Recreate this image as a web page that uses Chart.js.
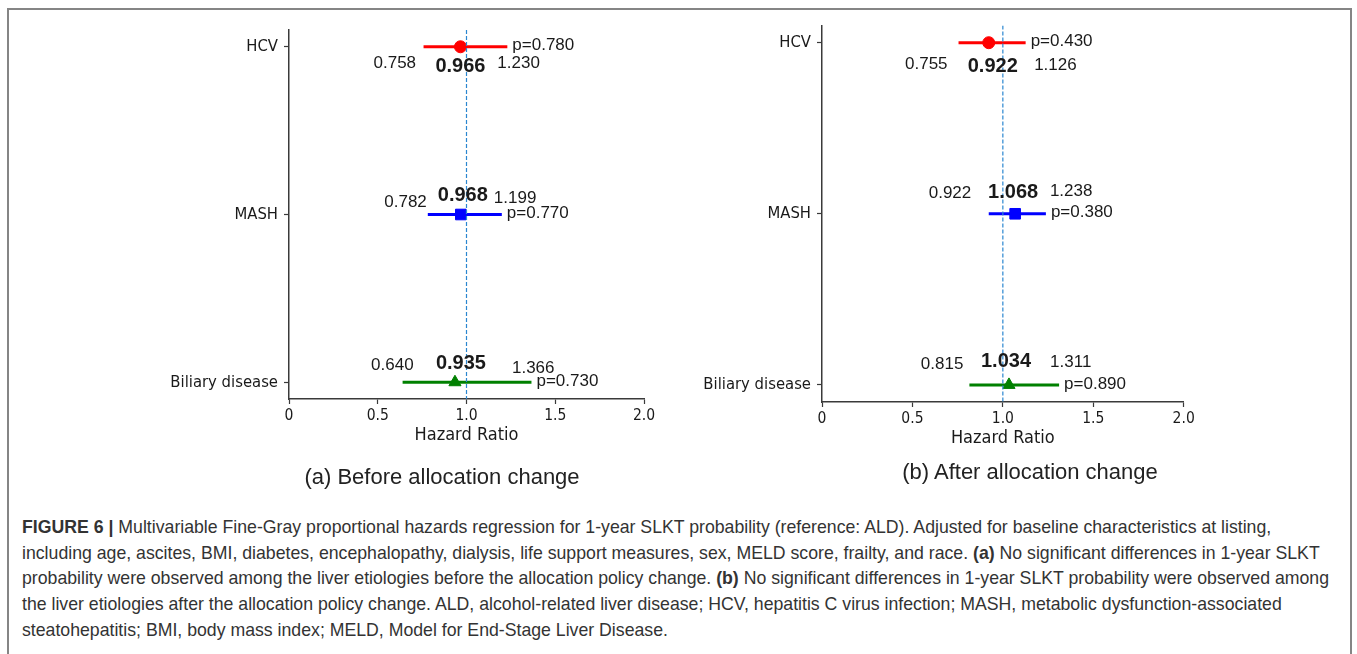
<!DOCTYPE html>
<html>
<head>
<meta charset="utf-8">
<script src="https://cdn.jsdelivr.net/npm/chart.js@4"></script>
<style>
  html, body { margin: 0; padding: 0; background: #fff; }
  body { width: 1357px; height: 654px; position: relative; overflow: hidden; }
  #frame { position: absolute; left: 7px; top: 8px; width: 1345px; height: 700px; border: 2px solid #858585; box-sizing: border-box; }
  canvas { position: absolute; top: 0; }
  #before { left: 0; }
  #after { left: 680px; }
  .sub { position: absolute; font-family: "Liberation Sans", Arial, sans-serif; font-size: 22px; color: #222; transform: translate(-50%, -50%); white-space: nowrap; }
  #caption { position: absolute; left: 22px; top: 515px; font-family: "Liberation Sans", Arial, sans-serif; font-size: 17.7px; line-height: 25.7px; color: #333; white-space: nowrap; }
</style>
</head>
<body>
<div id="frame"></div>
<canvas id="before" width="680" height="500"></canvas>
<canvas id="after" width="677" height="500"></canvas>
<div class="sub" style="left:442px;top:477px">(a) Before allocation change</div>
<div class="sub" style="left:1030px;top:472px">(b) After allocation change</div>
<div id="caption">
<b>FIGURE 6 |</b> Multivariable Fine-Gray proportional hazards regression for 1-year SLKT probability (reference: ALD). Adjusted for baseline characteristics at listing,<br>
including age, ascites, BMI, diabetes, encephalopathy, dialysis, life support measures, sex, MELD score, frailty, and race. <b>(a)</b> No significant differences in 1-year SLKT<br>
probability were observed among the liver etiologies before the allocation policy change. <b>(b)</b> No significant differences in 1-year SLKT probability were observed among<br>
the liver etiologies after the allocation policy change. ALD, alcohol-related liver disease; HCV, hepatitis C virus infection; MASH, metabolic dysfunction-associated<br>
steatohepatitis; BMI, body mass index; MELD, Model for End-Stage Liver Disease.
</div>
<script>
const categories = ["HCV", "MASH", "Biliary disease"]

const beforeHR = [0.966, 0.968, 0.935]
const beforeLower = [0.758, 0.782, 0.640]
const beforeUpper = [1.230, 1.199, 1.366]
const beforeP = [0.780, 0.770, 0.730]

const afterHR = [0.922, 1.068, 1.034]
const afterLower = [0.755, 0.922, 0.815]
const afterUpper = [1.126, 1.238, 1.311]
const afterP = [0.430, 0.380, 0.890]

const xTicks = [0, 0.5, 1.0, 1.5, 2.0]
const xTickLabels = ["0", "0.5", "1.0", "1.5", "2.0"]
const referenceHR = 1

// styling
const rowColors = ["#ff0000", "#0000ff", "#008000"]
const rowMarkers = ["circle", "rect", "triangle"]
const markerSize = [6, 7.5, 7]
const axisFamily = "'DejaVu Sans Condensed', 'DejaVu Sans', sans-serif"
const textColor = "#1a1a1a"
const axisColor = "#3a3a3a"

// label nudges in px: [lowerDx, lowerDy, hrDx, hrDy, upperDx, upperDy]
const beforeNudge = [
  [-7.5, 17, 0, 20, -10, 17],
  [-1, -12, 2, -19, -8, -16],
  [11, -17, 6, -19, -19.5, -14],
]
const afterNudge = [
  [-11, 22, 4, 24, 8.5, 23],
  [-17.5, -20, -2, -21, 4, -22],
  [-6, -21, -3, -23, -9, -23],
]

const annotate = (hr, lower, upper, pvals, nudge) => ({
  id: "annotate",
  afterDatasetsDraw(chart) {
    const { ctx, scales: { x, y } } = chart
    ctx.save()
    ctx.fillStyle = textColor
    ctx.textBaseline = "middle"
    hr.forEach((v, i) => {
      const n = nudge[i]
      const yy = y.getPixelForValue(i)
      ctx.font = "17px 'Liberation Sans', Arial, sans-serif"
      ctx.textAlign = "right"
      ctx.fillText(lower[i].toFixed(3), x.getPixelForValue(lower[i]) + n[0], yy + n[1])
      ctx.textAlign = "left"
      ctx.fillText(upper[i].toFixed(3), x.getPixelForValue(upper[i]) + n[4], yy + n[5])
      ctx.fillText("p=" + pvals[i].toFixed(3), x.getPixelForValue(upper[i]) + 5, yy - 1)
      ctx.font = "bold 20px 'Liberation Sans', Arial, sans-serif"
      ctx.textAlign = "center"
      ctx.fillText(v.toFixed(3), x.getPixelForValue(v) + n[2], yy + n[3])
    })
    ctx.restore()
  },
})

const drawForest = (canvasId, hr, lower, upper, pvals, nudge, box) => {
  const rows = hr.map((v, i) => ({
    data: [
      { x: lower[i], y: i },
      { x: v, y: i },
      { x: upper[i], y: i },
    ],
    showLine: true,
    borderColor: rowColors[i],
    borderWidth: 3,
    pointRadius: [0, markerSize[i], 0],
    pointStyle: rowMarkers[i],
    pointBackgroundColor: rowColors[i],
    pointBorderColor: rowColors[i],
    pointBorderWidth: 1,
    order: 1,
  }))

  const refLine = {
    data: [
      { x: referenceHR, y: -0.1 },
      { x: referenceHR, y: 2.1 },
    ],
    showLine: true,
    borderColor: "#2a86d0",
    borderWidth: 1.2,
    borderDash: [4, 2],
    pointRadius: 0,
    order: 0,
  }

  new Chart(document.getElementById(canvasId), {
    type: "scatter",
    data: { datasets: [...rows, refLine] },
    options: {
      responsive: false,
      animation: false,
      layout: {
        padding: { left: box.padLeft, right: box.padRight, top: box.padTop, bottom: box.padBottom },
      },
      plugins: {
        legend: { display: false },
        tooltip: { enabled: false },
      },
      scales: {
        x: {
          type: "linear",
          min: 0,
          max: 2,
          afterBuildTicks: (scale) => {
            scale.ticks = xTicks.map((v) => ({ value: v }))
          },
          afterFit: (scale) => {
            scale.height = box.xHeight
            scale.paddingLeft = scale.paddingRight = 0
          },
          ticks: {
            autoSkip: false,
            maxRotation: 0,
            padding: 3,
            color: textColor,
            font: { family: axisFamily, size: 15.5 },
            callback: (v, i) => xTickLabels[i],
          },
          grid: { drawOnChartArea: false, drawTicks: true, tickLength: 5, tickWidth: 1.2, tickColor: axisColor },
          border: { display: true, color: axisColor, width: 1.5 },
          title: {
            display: true,
            text: "Hazard Ratio",
            color: textColor,
            font: { family: axisFamily, size: 18 },
            padding: 0,
          },
        },
        y: {
          type: "linear",
          min: -0.1,
          max: 2.1,
          reverse: true,
          afterBuildTicks: (scale) => {
            scale.ticks = categories.map((c, i) => ({ value: i }))
          },
          afterFit: (scale) => {
            scale.width = box.yWidth
            scale.paddingTop = scale.paddingBottom = 0
          },
          ticks: {
            autoSkip: false,
            padding: 6,
            color: textColor,
            font: { family: axisFamily, size: 16.5 },
            callback: (v) => categories[v],
          },
          grid: { drawOnChartArea: false, drawTicks: true, tickLength: 5, tickWidth: 1.2, tickColor: axisColor },
          border: { display: true, color: axisColor, width: 1.5 },
        },
      },
    },
    plugins: [annotate(hr, lower, upper, pvals, nudge)],
  })
}

drawForest("before", beforeHR, beforeLower, beforeUpper, beforeP, beforeNudge, {
  padLeft: 129, padRight: 36, padTop: 30, padBottom: 54.2, yWidth: 160, xHeight: 46.8,
})
drawForest("after", afterHR, afterLower, afterUpper, afterP, afterNudge, {
  padLeft: 2, padRight: 173.3, padTop: 25.6, padBottom: 50.9, yWidth: 140, xHeight: 47.1,
})
</script>
</body>
</html>
